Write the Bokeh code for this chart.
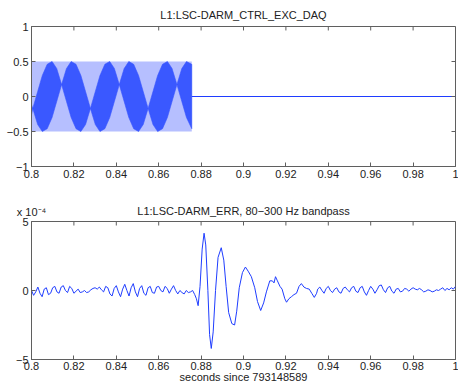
from bokeh.plotting import figure
from bokeh.models import Range1d, FixedTicker, Title, LinearAxis
from bokeh.layouts import column
from bokeh.embed import file_html
from bokeh.resources import INLINE

# ---------------- data ----------------
x_ticks = [0.8, 0.82, 0.84, 0.86, 0.88, 0.9, 0.92, 0.94, 0.96, 0.98, 1.0]
x_tick_labels = ["0.8", "0.82", "0.84", "0.86", "0.88", "0.9", "0.92", "0.94", "0.96", "0.98", "1"]
top_y_ticks = [-1, -0.5, 0, 0.5, 1]
top_y_labels = ["\u22121", "\u22120.5", "0", "0.5", "1"]
bot_y_ticks = [-5, 0, 5]
bot_y_labels = ["\u22125", "0", "5"]

# excitation (top panel): full swing band and dense-core envelope
exc_start = 0.8
exc_end = 0.8756
exc_amp = 0.5
exc_stop_end = 1.0
core_t = [0.8000, 0.8006, 0.8029, 0.8051, 0.8074, 0.8097, 0.8119, 0.8142,
          0.8165, 0.8187, 0.8210, 0.8233, 0.8255, 0.8278, 0.8301, 0.8323,
          0.8346, 0.8369, 0.8391, 0.8414, 0.8437, 0.8459, 0.8482, 0.8505,
          0.8527, 0.8550, 0.8573, 0.8595, 0.8618, 0.8641, 0.8663, 0.8686,
          0.8709, 0.8731, 0.8756]
core_hi = [-0.12, -0.17, 0.07, 0.30, 0.46, 0.50, 0.40, 0.17,
           0.40, 0.50, 0.46, 0.30, 0.07, -0.17, 0.07, 0.30,
           0.46, 0.50, 0.40, 0.17, 0.40, 0.50, 0.46, 0.30,
           0.07, -0.17, 0.07, 0.30, 0.46, 0.50, 0.40, 0.17,
           0.40, 0.50, 0.46]
core_lo = [-0.26, -0.17, -0.40, -0.50, -0.46, -0.30, -0.07, 0.17,
           -0.07, -0.30, -0.46, -0.50, -0.40, -0.17, -0.40, -0.50,
           -0.46, -0.30, -0.07, 0.17, -0.07, -0.30, -0.46, -0.50,
           -0.40, -0.17, -0.40, -0.50, -0.46, -0.30, -0.07, 0.17,
           -0.07, -0.30, -0.46]

# DARM_ERR bandpassed (units of 1e-4)
err_pre_t0 = 0.800
err_dt = 0.001
err_pre = [0.0, -0.35, -0.1, 0.25, -0.2, -0.45, 0.1, 0.2, -0.3, -0.2,
           0.2, 0.3, -0.1, -0.2, 0.25, 0.35, 0.0, -0.15, 0.3, 0.15,
           -0.2, -0.05, 0.1, -0.15, -0.1, 0.0, -0.15, -0.1, 0.05, 0.15,
           0.2, 0.1, 0.25, 0.05, -0.1, 0.3, 0.2, -0.25, -0.4, 0.15,
           0.35, -0.1, -0.45, 0.1, 0.45, 0.0, -0.4, 0.2, 0.5, -0.1,
           -0.45, 0.15, 0.35, -0.2, -0.35, 0.2, 0.3, -0.15, -0.2, 0.25,
           0.3, 0.0, -0.1, 0.3, 0.15, -0.2, 0.1, 0.35, 0.0, -0.25,
           0.0, -0.15, -0.25, 0.0, -0.15, -0.1, 0.0, -0.3]
burst_t = [0.8778, 0.8786, 0.8795, 0.8805, 0.8814, 0.8822, 0.8832, 0.8840,
           0.8848, 0.8857, 0.8868, 0.8880, 0.8895, 0.8907, 0.8918, 0.8930,
           0.8945, 0.8958, 0.8968, 0.8980, 0.8995, 0.9009, 0.9022, 0.9037,
           0.9053, 0.9066, 0.9081, 0.9095, 0.9108, 0.9124, 0.9136, 0.9144,
           0.9151, 0.9160, 0.9172, 0.9182, 0.9195, 0.9203, 0.9214, 0.9226,
           0.9238, 0.9250, 0.9262, 0.9273, 0.9285, 0.9297, 0.9310, 0.9322,
           0.9334, 0.9345]
burst_v = [-0.6, -1.1, 0.3, 3.0, 4.15, 3.3, 0.0, -3.2,
           -4.2, -3.0, 0.0, 2.4, 3.1, 2.2, 0.3, -1.6,
           -2.4, -2.5, -1.5, 0.2, 1.3, 1.7, 1.4, 1.0,
           0.2, -0.8, -1.45, -0.9, -0.1, 0.7, 0.7, 0.55,
           1.0, 0.7, 0.3, 0.1, -0.6, -0.85, -0.6, -0.45,
           -0.3, -0.2, 0.3, 0.5, 0.25, 0.15, 0.1, -0.2,
           -0.5, -0.2]
err_post_t0 = 0.935
err_post = [0.1, 0.25, 0.0, -0.2, 0.15, 0.3, 0.0, -0.15, 0.1, 0.2,
            -0.1, -0.2, 0.15, 0.25, 0.05, -0.1, 0.2, 0.3, -0.05, -0.15,
            0.2, 0.3, -0.1, -0.35, 0.0, 0.3, 0.1, -0.2, 0.05, 0.35,
            0.4, 0.05, -0.15, 0.2, 0.3, -0.05, -0.2, 0.1, 0.15, -0.1,
            -0.05, 0.15, 0.1, -0.05, 0.1, 0.2, 0.1, 0.05, 0.15, 0.05,
            -0.1, -0.05, 0.05, 0.0, -0.1, -0.05, 0.05, 0.0, 0.1, 0.2,
            0.0, 0.15, 0.05, 0.2, 0.1, 0.3]

# ---------------- styling helpers ----------------
FONT = "Liberation Sans"
AXC = "#5f5f5f"
TXC = "#222222"
BLUE = "#1f3dff"
TICK_PX = 4


def style_axes(p, yt, yl, y_lo, y_hi, frame_h):
    xo = {t: l for t, l in zip(x_ticks, x_tick_labels)}
    yo = {t: l for t, l in zip(yt, yl)}
    xax = p.below[0]
    yax = p.left[0]
    xax.ticker = FixedTicker(ticks=x_ticks)
    xax.major_label_overrides = xo
    yax.ticker = FixedTicker(ticks=yt)
    yax.major_label_overrides = yo
    for ax in (xax, yax):
        ax.major_tick_in = TICK_PX
        ax.major_tick_out = 0
        ax.minor_tick_line_color = None
        ax.axis_line_color = AXC
        ax.major_tick_line_color = AXC
        ax.major_label_text_font = FONT
        ax.major_label_text_color = TXC
        ax.major_label_text_font_size = "11px"
        ax.major_label_standoff = 3
    p.xgrid.visible = False
    p.ygrid.visible = False
    p.outline_line_color = AXC
    # inward ticks on the top and right edges of the box
    dy = (y_hi - y_lo) * TICK_PX / frame_h
    dx = (x_ticks[-1] - x_ticks[0]) * TICK_PX / 424.0
    p.segment(x0=x_ticks, y0=[y_hi] * len(x_ticks), x1=x_ticks, y1=[y_hi - dy] * len(x_ticks),
              line_color=AXC, line_width=1)
    p.segment(x0=[x_ticks[-1]] * len(yt), y0=yt, x1=[x_ticks[-1] - dx] * len(yt), y1=yt,
              line_color=AXC, line_width=1)
    return xax, yax


def title(text, align, standoff, offset=0, size="11px"):
    return Title(text=text, align=align, text_font=FONT, text_font_size=size,
                 text_font_style="normal", text_color=TXC, standoff=standoff, offset=offset)


# ---------------- top panel ----------------
p1 = figure(width=458, height=190, output_backend="svg", toolbar_location=None,
            x_range=Range1d(0.8, 1.0), y_range=Range1d(-1, 1),
            min_border_left=31, min_border_right=3, min_border_top=25, min_border_bottom=24)
p1.title = title("L1:LSC-DARM_CTRL_EXC_DAQ", "center", 12)
p1.background_fill_color = "white"
p1.border_fill_color = "white"

p1.quad(left=[exc_start], right=[exc_end], bottom=[-exc_amp], top=[exc_amp],
        fill_color="#b6bfff", line_color=None)
poly_x = core_t + core_t[::-1]
poly_y = core_hi + core_lo[::-1]
p1.patch(poly_x, poly_y, fill_color="#3a58ff", line_color="#3a58ff", line_width=0.6)
p1.line([exc_end, exc_stop_end], [0, 0], line_color=BLUE, line_width=1)
style_axes(p1, top_y_ticks, top_y_labels, -1, 1, 141.0)

# ---------------- bottom panel ----------------
p2 = figure(width=458, height=195, output_backend="svg", toolbar_location=None,
            x_range=Range1d(0.8, 1.0), y_range=Range1d(-5, 5), title=None,
            min_border_left=31, min_border_right=3, min_border_top=31, min_border_bottom=26)
p2.background_fill_color = "white"
p2.border_fill_color = "white"

pre_t = [round(err_pre_t0 + i * err_dt, 4) for i in range(len(err_pre))]
post_t = [round(err_post_t0 + i * err_dt, 4) for i in range(len(err_post))]
err_t = pre_t + burst_t + post_t
err_v = err_pre + burst_v + err_post
p2.line(err_t, err_v, line_color=BLUE, line_width=1)
xax2, yax2 = style_axes(p2, bot_y_ticks, bot_y_labels, -5, 5, 138.0)
xax2.major_label_standoff = 2
xax2.axis_label = "seconds since 793148589"
xax2.axis_label_text_font = FONT
xax2.axis_label_text_font_size = "11px"
xax2.axis_label_text_font_style = "normal"
xax2.axis_label_text_color = TXC
xax2.axis_label_standoff = -2

p2.add_layout(title("L1:LSC-DARM_ERR, 80\u2212300 Hz bandpass", "center", 9), "above")
scale_ax = LinearAxis(ticker=FixedTicker(ticks=[]), axis_line_color=None,
                      major_tick_line_color=None, minor_tick_line_color=None,
                      major_label_text_font_size="0px", major_label_standoff=0,
                      major_tick_in=0, major_tick_out=0,
                      axis_label="x 10\u207b\u2074", axis_label_align="start",
                      axis_label_standoff=-19, axis_label_text_font=FONT,
                      axis_label_text_font_size="11px", axis_label_text_font_style="normal",
                      axis_label_text_color=TXC)
p2.add_layout(scale_ax, "above")

layout = column(p1, p2, spacing=0)
open("out.html", "w").write(file_html(layout, INLINE))
